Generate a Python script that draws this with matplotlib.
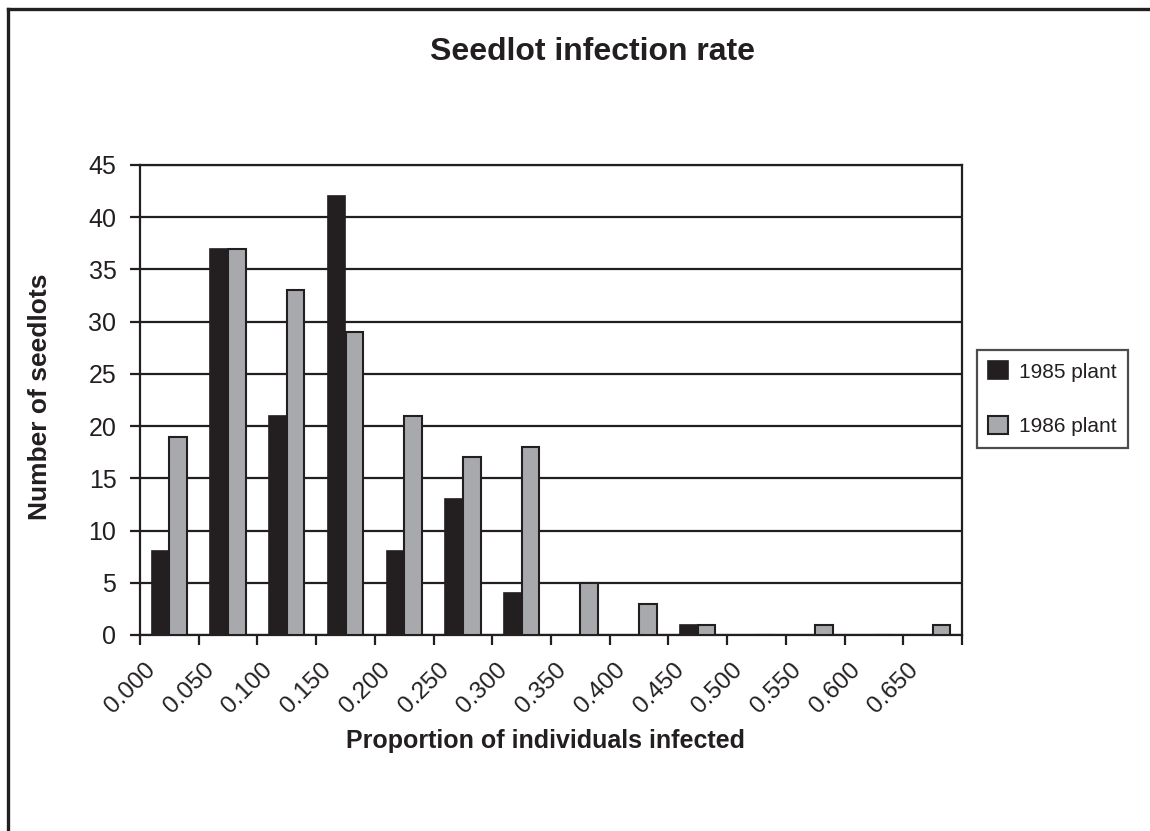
import numpy as np
import matplotlib
matplotlib.use("Agg")
import matplotlib.pyplot as plt
import matplotlib.transforms as mtransforms
from matplotlib.lines import Line2D

plt.rcParams['font.family'] = ['Liberation Sans', 'DejaVu Sans']

# data
bins = ["0.000", "0.050", "0.100", "0.150", "0.200", "0.250", "0.300",
        "0.350", "0.400", "0.450", "0.500", "0.550", "0.600", "0.650"]
plant_1985 = [8, 37, 21, 42, 8, 13, 4, 0, 0, 1, 0, 0, 0, 0]
plant_1986 = [19, 37, 33, 29, 21, 17, 18, 5, 3, 1, 0, 1, 0, 1]

ink = '#231f20'
grey = '#a7a9ac'
W, H = 1150, 831

fig = plt.figure(figsize=(W / 100, H / 100), dpi=100)
ax = fig.add_axes([140 / W, 1 - 635 / H, (962 - 140) / W, (635 - 165) / H])

x = np.arange(len(bins))
bw = 0.3
ax.bar(x - bw / 2, plant_1985, width=bw, color=ink, edgecolor=ink,
       linewidth=1.2, label='1985 plant', zorder=3)
ax.bar(x + bw / 2, plant_1986, width=bw, color=grey, edgecolor=ink,
       linewidth=1.5, label='1986 plant', zorder=3)

ax.set_xlim(-0.5, len(bins) - 0.5)
ax.set_ylim(0, 45)
ax.set_yticks(np.arange(0, 46, 5))
ax.yaxis.grid(True, color=ink, linewidth=1.6)
ax.set_axisbelow(True)

ax.set_xticks(np.arange(-0.5, len(bins)), bins + [''])
ax.tick_params(axis='x', length=7, width=1.6, color=ink, pad=16)
ax.tick_params(axis='y', length=7, width=1.6, color=ink, pad=10,
               labelsize=18, labelcolor=ink)
shift = mtransforms.ScaledTranslation(12 / 100, 0, fig.dpi_scale_trans)
for lab in ax.get_xticklabels():
    lab.set_rotation(45)
    lab.set_ha('right')
    lab.set_va('center')
    lab.set_rotation_mode('anchor')
    lab.set_fontsize(17.5)
    lab.set_color(ink)
    lab.set_transform(lab.get_transform() + shift)

for side in ['left', 'right', 'top', 'bottom']:
    ax.spines[side].set_color(ink)
    ax.spines[side].set_linewidth(1.6)

fig.text(592 / W, 1 - 52 / H, 'Seedlot infection rate', ha='center',
         va='center', fontsize=23, fontweight='bold', color=ink)
fig.text(546 / W, 1 - 741 / H, 'Proportion of individuals infected',
         ha='center', va='center', fontsize=18, fontweight='bold', color=ink)
fig.text(40 / W, 1 - 397 / H, 'Number of seedlots', ha='center',
         va='center', rotation=90, fontsize=19, fontweight='bold', color=ink)

leg = fig.legend(loc='upper left', bbox_to_anchor=(977 / W, 1 - 350 / H),
                 borderaxespad=0, fontsize=15, frameon=True, fancybox=False,
                 edgecolor=ink, handlelength=0.95, handleheight=0.95,
                 handletextpad=0.5, labelspacing=1.65, borderpad=0.55,
                 labelcolor=ink)
leg.get_frame().set_linewidth(1.6)

# chart-area border (left and top edges only)
fig.add_artist(Line2D([8 / W, 8 / W], [0, 1 - 9 / H], color=ink, linewidth=2.4,
                      transform=fig.transFigure))
fig.add_artist(Line2D([8 / W, 1], [1 - 9 / H, 1 - 9 / H], color=ink,
                      linewidth=2.4, transform=fig.transFigure))

fig.savefig('out.png', dpi=100)
